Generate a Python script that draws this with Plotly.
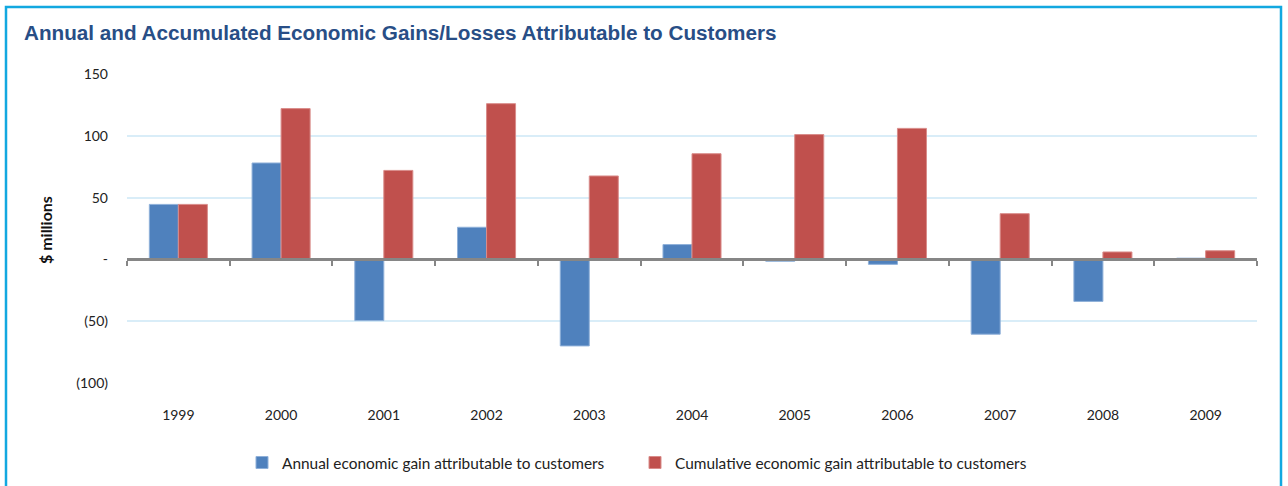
import plotly.graph_objects as go

# Fiscal years shown on the category axis
years = ["1999", "2000", "2001", "2002", "2003", "2004", "2005", "2006", "2007", "2008", "2009"]

# $ millions
annual_gain = [44.5, 78, -49.5, 26, -70, 12, -1.5, -4, -60.5, -34, 1]
cumulative_gain = [44.5, 122, 72, 126, 67.5, 85.5, 101, 106, 37, 6, 7]

# y-axis ticks with accounting-style labels
y_ticks = [-100, -50, 0, 50, 100, 150]
y_tick_text = ["(100)", "(50)", "-", "50", "100", "150"]

W, H = 1288, 486
ML, MR, MT, MB = 127, 31, 74, 103
PW, PH = W - ML - MR, H - MT - MB


def px_x(p):
    return (p - ML) / PW


def px_y(p):
    return (H - MB - p) / PH


BLUE = "#4f81bd"
RED = "#c0504d"
FONT = "Lato, 'Open Sans', sans-serif"
Y_MIN, Y_MAX = -100, 150

fig = go.Figure()
fig.add_trace(go.Bar(
    x=years, y=annual_gain, name="Annual economic gain attributable to customers",
    marker=dict(color=BLUE, line=dict(color="#8fb0d9", width=1)),
))
fig.add_trace(go.Bar(
    x=years, y=cumulative_gain, name="Cumulative economic gain attributable to customers",
    marker=dict(color=RED, line=dict(color="#d98c8a", width=1)),
))
# carrier for the overlaid axis that draws the zero line with its tick marks
fig.add_trace(go.Bar(x=[], y=[], xaxis="x2", showlegend=False, hoverinfo="skip"))

fig.update_layout(
    width=W, height=H,
    margin=dict(l=ML, r=MR, t=MT, b=MB, autoexpand=False),
    paper_bgcolor="white", plot_bgcolor="white",
    barmode="group", bargap=0.435, bargroupgap=0,
    font=dict(family=FONT, size=13, color="#222222"),
    showlegend=True,
    legend=dict(
        orientation="h", x=px_x(242), xanchor="left", y=px_y(463), yanchor="middle",
        font=dict(family=FONT, size=15.4, color="#222222"),
        entrywidth=348, bgcolor="rgba(0,0,0,0)",
    ),
    xaxis=dict(
        type="category", showgrid=False, showline=False, ticks="",
        zeroline=False, ticklabelstandoff=22, tickfont=dict(size=14),
    ),
    xaxis2=dict(
        overlaying="x", anchor="free", position=(0 - Y_MIN) / (Y_MAX - Y_MIN),
        range=[-0.5, len(years) - 0.5],
        tickmode="array", tickvals=[i - 0.5 for i in range(len(years) + 1)],
        showticklabels=False, ticks="outside", ticklen=5, tickwidth=1.5,
        tickcolor="#868686", showline=True, linecolor="#868686", linewidth=2.5,
        showgrid=False, zeroline=False,
    ),
    yaxis=dict(
        range=[Y_MIN, Y_MAX], tickmode="array", tickvals=y_ticks, ticktext=y_tick_text,
        showgrid=True, gridcolor="#d9edf8", gridwidth=1.5, zeroline=False,
        showline=False, ticks="", ticklabelstandoff=18, tickfont=dict(size=14),
    ),
)

# chart heading
fig.add_annotation(
    xref="paper", yref="paper", x=px_x(22), y=px_y(32), xanchor="left", yanchor="middle",
    text="<b>Annual and Accumulated Economic Gains/Losses Attributable to Customers</b>",
    showarrow=False, font=dict(family="Liberation Sans, Arial, sans-serif", size=20.7, color="#284e86"),
)

# y-axis title
fig.add_annotation(
    xref="paper", yref="paper", x=px_x(45), y=px_y(230), xanchor="center", yanchor="middle",
    text="<b>$ millions</b>", textangle=-90, showarrow=False,
    font=dict(family=FONT, size=16, color="#111111"),
)

# frame around the chart
fig.add_shape(
    type="rect", xref="paper", yref="paper",
    x0=px_x(6), x1=px_x(1281), y0=px_y(H + 10), y1=px_y(7),
    line=dict(color="#12a8e0", width=2.5), fillcolor="rgba(0,0,0,0)", layer="above",
)

fig.write_html("out.html")
